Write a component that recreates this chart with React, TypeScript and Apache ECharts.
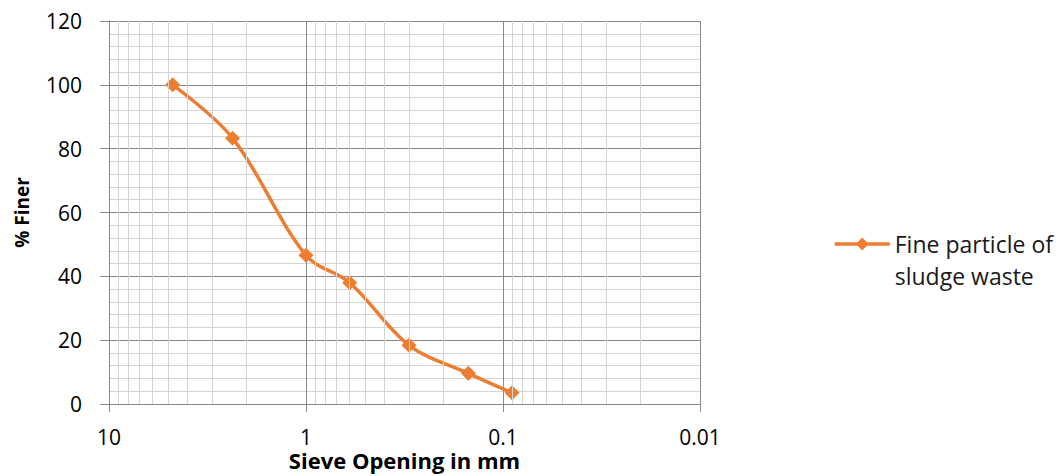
import React, { useEffect, useRef } from "react";
import * as echarts from "echarts";

// Sieve analysis: opening size (mm) vs cumulative percent passing
const sieveOpening = [4.75, 2.36, 1.0, 0.6, 0.3, 0.15, 0.09];
const percentFiner = [100, 83.3, 46.6, 38.0, 18.4, 9.6, 3.5];
const seriesName = "Fine particle of sludge waste";

// Intermediate log-cycle grid lines (2..9 within each decade)
const minorSieveLines = [
  9, 8, 7, 6, 5, 4, 3, 2,
  0.9, 0.8, 0.7, 0.6, 0.5, 0.4, 0.3, 0.2,
  0.09, 0.08, 0.07, 0.06, 0.05, 0.04, 0.03, 0.02,
];

const FONT = "Open Sans";
const ORANGE = "#ED7D31";
const MAJOR = "#898989";
const MINOR = "#d4d4d4";

export default function App() {
  const ref = useRef<HTMLDivElement>(null);

  useEffect(() => {
    if (!ref.current) return;
    const chart = echarts.init(ref.current, undefined, { renderer: "svg" });
    chart.setOption({
      animation: false,
      backgroundColor: "#ffffff",
      textStyle: { fontFamily: FONT },
      grid: {
        left: 109,
        right: 361,
        top: 21,
        bottom: 72,
        containLabel: false,
        outerBoundsMode: "none",
      },
      legend: {
        data: [seriesName],
        left: 833,
        top: 196,
        padding: 0,
        itemWidth: 55,
        itemHeight: 16,
        lineStyle: { width: 3.5 },
        // blank first line keeps the legend icon level with "Fine particle of"
        formatter: () => "\u00a0\nFine particle of\nsludge waste",
        textStyle: {
          fontFamily: FONT,
          fontSize: 23,
          color: "#1a1a1a",
          lineHeight: 32,
        },
      },
      xAxis: {
        type: "log",
        logBase: 10,
        min: 0.01,
        max: 10,
        inverse: true,
        name: "Sieve Opening in mm",
        nameLocation: "middle",
        nameGap: 47,
        nameMoveOverlap: false,
        nameTextStyle: {
          fontFamily: FONT,
          fontSize: 22,
          lineHeight: 18,
          fontWeight: "bold",
          color: "#000",
        },
        axisLine: { show: true, lineStyle: { color: MAJOR, width: 1 } },
        axisTick: { show: true, length: 8, lineStyle: { color: MAJOR } },
        axisLabel: {
          fontFamily: FONT,
          fontSize: 21,
          lineHeight: 18,
          color: "#000",
          margin: 24,
          formatter: (v: number) => String(v),
        },
        splitLine: { show: true, lineStyle: { color: MAJOR, width: 1 } },
        minorTick: { show: false },
      },
      yAxis: {
        type: "value",
        min: 0,
        max: 120,
        interval: 20,
        name: "% Finer",
        nameLocation: "middle",
        nameGap: 78,
        nameMoveOverlap: false,
        nameTextStyle: { fontFamily: FONT, fontSize: 19, fontWeight: "bold", color: "#000" },
        axisLine: { show: true, lineStyle: { color: MAJOR, width: 1 } },
        axisTick: { show: true, length: 9, lineStyle: { color: MAJOR } },
        axisLabel: { fontFamily: FONT, fontSize: 21, color: "#000", margin: 27 },
        splitLine: { show: true, lineStyle: { color: MAJOR, width: 1 } },
        minorTick: { show: false, splitNumber: 5 },
        minorSplitLine: { show: true, lineStyle: { color: MINOR, width: 1 } },
      },
      series: [
        {
          name: "log grid",
          type: "line",
          data: [],
          silent: true,
          z: 1,
          markLine: {
            silent: true,
            symbol: ["none", "none"],
            label: { show: false },
            animation: false,
            lineStyle: { color: MINOR, type: "solid", width: 1 },
            emphasis: { disabled: true },
            data: minorSieveLines.map((v) => ({ xAxis: v })),
          },
        },
        {
          name: seriesName,
          type: "line",
          z: 3,
          smooth: 0.35,
          data: sieveOpening.map((x, i) => [x, percentFiner[i]]),
          symbol: "diamond",
          symbolSize: 15,
          lineStyle: { color: ORANGE, width: 3.5 },
          itemStyle: { color: ORANGE },
        },
      ],
    });
    return () => chart.dispose();
  }, []);

  return (
    <div
      ref={ref}
      style={{ position: "fixed", left: 0, top: 0, width: 1061, height: 476, background: "#fff" }}
    />
  );
}
